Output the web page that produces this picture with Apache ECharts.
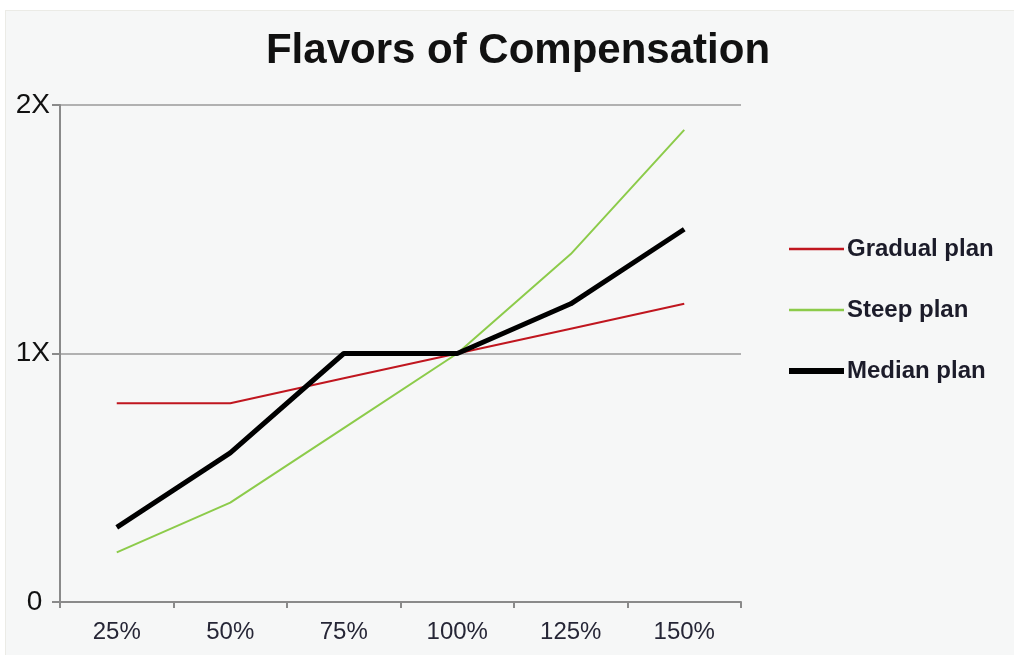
<!DOCTYPE html>
<html>
<head>
<meta charset="utf-8">
<script src="https://cdn.jsdelivr.net/npm/echarts@6/dist/echarts.min.js"></script>
<style>
html,body{margin:0;padding:0;background:#ffffff;}
#wrap{position:absolute;left:5px;top:10px;width:1009px;height:645px;background:#f6f7f7;border-top:1px solid #ebebe6;border-left:1px solid #ebebe6;}
#chart{position:absolute;left:0;top:0;width:1014px;height:655px;}
</style>
</head>
<body>
<div id="wrap"></div>
<div id="chart"></div>
<script>
const categories = ['25%', '50%', '75%', '100%', '125%', '150%'];
const gradualPlan = [0.8, 0.8, 0.9, 1.0, 1.1, 1.2];
const steepPlan = [0.2, 0.4, 0.7, 1.0, 1.4, 1.9];
const medianPlan = [0.3, 0.6, 1.0, 1.0, 1.2, 1.5];
const yTickLabels = {0: '0 ', 1: '1X', 2: '2X'};

const chart = echarts.init(document.getElementById('chart'), null, {renderer: 'canvas'});
chart.setOption({
  backgroundColor: 'transparent',
  animation: false,
  title: {
    text: 'Flavors of Compensation',
    left: 513, textAlign: 'center', top: 25,
    textStyle: {fontFamily: 'Liberation Sans', fontWeight: 'bold', fontSize: 42, color: '#111111'}
  },
  grid: {left: 60, right: 273, top: 105, bottom: 53},
  legend: {
    orient: 'vertical',
    left: 781, top: 232,
    itemGap: 37,
    itemWidth: 55,
    itemHeight: 14,
    itemStyle: {opacity: 0},
    textStyle: {fontFamily: 'Liberation Sans', fontWeight: 'bold', fontSize: 24, color: '#1c1c2a', padding: [0, 0, 0, -2]},
    data: [
      {name: 'Gradual plan', lineStyle: {width: 2.5}},
      {name: 'Steep plan', lineStyle: {width: 2.5}},
      {name: 'Median plan', lineStyle: {width: 6}}
    ]
  },
  xAxis: {
    type: 'category',
    data: categories,
    boundaryGap: true,
    axisLine: {lineStyle: {color: '#8a8a8a', width: 2}},
    axisTick: {show: true, length: 6, lineStyle: {color: '#8a8a8a', width: 2}},
    axisLabel: {fontFamily: 'Liberation Sans', fontSize: 24, color: '#262636', margin: 18}
  },
  yAxis: {
    type: 'value',
    min: 0, max: 2, interval: 1,
    axisLine: {show: true, lineStyle: {color: '#8a8a8a', width: 2}},
    axisTick: {show: true, length: 8, lineStyle: {color: '#8a8a8a', width: 2}},
    splitLine: {show: true, lineStyle: {color: '#9a9a9a', width: 1.5}},
    axisLabel: {
      fontFamily: 'Liberation Sans', fontSize: 28, color: '#111111', margin: 10,
      formatter: v => yTickLabels[v] !== undefined ? yTickLabels[v] : ''
    }
  },
  series: [
    {name: 'Gradual plan', type: 'line', data: gradualPlan, symbol: 'none',
     lineStyle: {color: '#c0161f', width: 2}, itemStyle: {color: '#c0161f'}},
    {name: 'Steep plan', type: 'line', data: steepPlan, symbol: 'none',
     lineStyle: {color: '#8ccb4a', width: 2}, itemStyle: {color: '#8ccb4a'}},
    {name: 'Median plan', type: 'line', data: medianPlan, symbol: 'none',
     lineStyle: {color: '#000000', width: 5}, itemStyle: {color: '#000000'}}
  ]
});
</script>
</body>
</html>
